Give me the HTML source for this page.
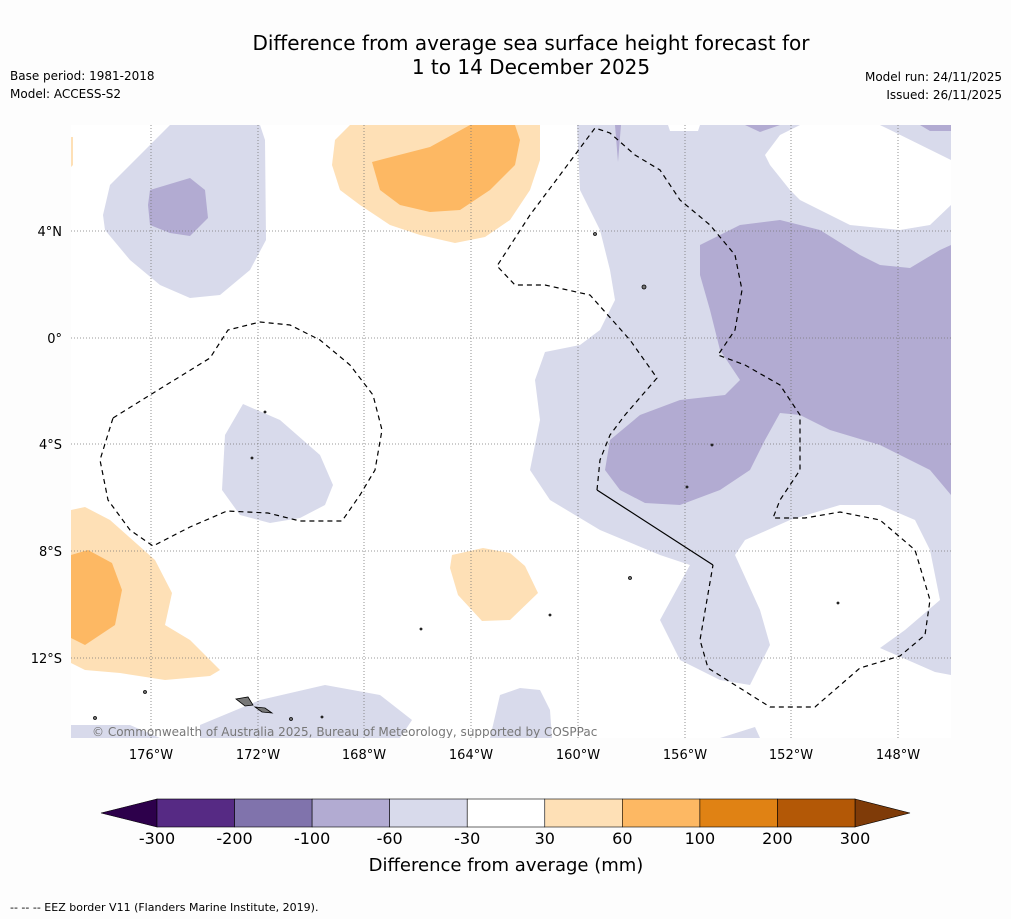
<!DOCTYPE html>
<html><head><meta charset="utf-8"><style>
body{margin:0;background:#fff;width:1011px;height:919px;overflow:hidden;font-family:"DejaVu Sans","Liberation Sans",sans-serif;}
svg{position:absolute;left:0;top:0}
</style></head><body>
<svg width="1011" height="919" xmlns="http://www.w3.org/2000/svg">
<rect width="1011" height="919" fill="#fdfdfd"/>
<text x="531" y="50" font-size="20" text-anchor="middle">Difference from average sea surface height forecast for</text>
<text x="531" y="74" font-size="20" text-anchor="middle">1 to 14 December 2025</text>
<text x="10" y="80" font-size="12">Base period: 1981-2018</text>
<text x="10" y="98" font-size="12">Model: ACCESS-S2</text>
<text x="1002" y="81" font-size="12" text-anchor="end">Model run: 24/11/2025</text>
<text x="1002" y="99" font-size="12" text-anchor="end">Issued: 26/11/2025</text>

<defs><clipPath id="mapclip"><rect x="71" y="125" width="880" height="613"/></clipPath></defs>
<g clip-path="url(#mapclip)">
<rect x="71" y="125" width="880" height="613" fill="#fff"/>
<g fill="#d8daeb">
<path d="M110,185 L170,125 L260,125 L265,140 L266,240 L250,270 L220,295 L190,298 L160,285 L130,260 L105,230 L103,215Z"/>
<path d="M243,404 L280,420 L320,455 L333,485 L325,505 L300,518 L270,523 L240,515 L222,490 L225,435Z"/>
<path d="M577,125 L951,125 L951,675 L935,672 L880,648 L905,630 L940,600 L930,550 L915,520 L880,505 L840,505 L790,520 L745,540 L735,555 L760,610 L770,645 L750,685 L720,680 L680,660 L660,620 L690,565 L660,555 L600,530 L550,500 L530,470 L540,420 L535,380 L545,352 L580,345 L600,330 L615,300 L610,270 L600,230 L580,190Z"/>
<path d="M200,738 L200,725 L260,700 L325,685 L380,695 L412,720 L400,738Z"/>
<path d="M490,738 L500,695 L520,688 L540,690 L550,710 L552,738Z"/>
<path d="M71,725 L130,725 L160,738 L71,738Z"/>
<path d="M720,738 L755,727 L760,738Z"/>
</g>
<path d="M770,165 L765,155 L780,135 L800,125 L880,125 L951,160 L951,205 L930,225 L900,230 L850,225 L800,200 L790,190Z" fill="#fff"/>
<path d="M668,125 L700,125 L698,131 L670,131Z" fill="#fff"/>
<g fill="#b2abd2">
<path d="M150,190 L190,178 L205,190 L208,218 L190,236 L170,233 L150,225 L148,205Z"/>
<path d="M700,245 L740,225 L780,220 L820,230 L860,255 L880,265 L910,268 L940,250 L951,245 L951,495 L930,470 L880,445 L830,430 L800,415 L780,413 L765,440 L750,470 L720,490 L680,505 L645,503 L620,490 L605,470 L610,440 L640,415 L680,400 L725,395 L740,380 L720,350 L710,310 L700,275Z"/>
<path d="M745,125 L780,125 L760,132Z"/><path d="M920,125 L951,125 L951,131 L930,131Z"/>
<path d="M615,125 L621,125 L618,162Z"/>
</g>
<g fill="#fee0b6">
<path d="M350,125 L540,125 L540,160 L530,190 L510,220 L485,237 L455,243 L420,235 L390,225 L360,205 L340,190 L332,165 L335,140Z"/>
<path d="M71,510 L85,507 L110,520 L155,560 L172,593 L165,625 L190,640 L220,670 L210,676 L165,680 L120,673 L85,670 L71,663Z"/>
<path d="M452,555 L483,548 L510,553 L525,566 L538,593 L510,620 L482,621 L458,595 L450,568Z"/>
<path d="M71,137 L73,137 L73,165 L71,167Z"/>
</g>
<g fill="#fdb863">
<path d="M372,162 L430,147 L470,125 L515,125 L520,140 L515,165 L490,190 L460,210 L430,212 L400,205 L380,190Z"/>
<path d="M71,555 L88,550 L112,563 L122,590 L115,625 L85,645 L71,638Z"/>
</g>
<g stroke="#777" stroke-width="0.8" stroke-dasharray="1,2">
<line x1="151" y1="125" x2="151" y2="738"/><line x1="258" y1="125" x2="258" y2="738"/><line x1="364" y1="125" x2="364" y2="738"/><line x1="471" y1="125" x2="471" y2="738"/><line x1="578" y1="125" x2="578" y2="738"/><line x1="685" y1="125" x2="685" y2="738"/><line x1="791" y1="125" x2="791" y2="738"/><line x1="898" y1="125" x2="898" y2="738"/>
<line x1="71" y1="231" x2="951" y2="231"/><line x1="71" y1="338" x2="951" y2="338"/><line x1="71" y1="444" x2="951" y2="444"/><line x1="71" y1="551" x2="951" y2="551"/><line x1="71" y1="658" x2="951" y2="658"/>
</g>
<g fill="none" stroke="#000" stroke-width="1.2" stroke-dasharray="5,4">
<path d="M113,418 L150,395 L210,358 L228,330 L260,322 L290,325 L320,340 L350,365 L373,395 L382,430 L375,470 L360,495 L342,521 L300,521 L268,513 L227,511 L190,527 L153,546 L130,530 L108,500 L100,460Z"/>
<path d="M597,490 L600,460 L610,435 L625,415 L657,378 L630,340 L590,295 L545,285 L515,285 L497,266 L530,215 L560,175 L595,128 L610,133 L635,155 L660,170 L680,200 L710,225 L735,255 L742,290 L735,330 L718,355 L745,365 L780,385 L800,415 L800,470 L780,500 L773,518 L805,518 L840,512 L880,520 L915,550 L930,600 L925,635 L900,656 L860,668 L815,707 L770,707 L735,685 L708,668 L700,640 L713,565"/>
</g>
<path d="M597,490 L713,565" stroke="#000" stroke-width="1.2" fill="none"/>
<g fill="#777" stroke="#000" stroke-width="0.8">
<path d="M236,699 L248,697 L253,705 L245,706Z"/><path d="M255,707 L265,708 L272,713 L262,712Z"/>
<circle cx="145" cy="692" r="1.5"/><circle cx="644" cy="287" r="2"/><circle cx="595" cy="234" r="1.5"/><circle cx="630" cy="578" r="1.5"/><circle cx="265" cy="412" r="1"/><circle cx="252" cy="458" r="1"/><circle cx="712" cy="445" r="1"/><circle cx="687" cy="487" r="1"/><circle cx="550" cy="615" r="1"/><circle cx="291" cy="719" r="1.5"/><circle cx="322" cy="717" r="1"/><circle cx="95" cy="718" r="1.5"/><circle cx="421" cy="629" r="1"/><circle cx="838" cy="603" r="1"/>
</g>
<text x="92" y="736" font-size="12" fill="#777">© Commonwealth of Australia 2025, Bureau of Meteorology, supported by COSPPac</text>
</g>
<g font-size="13">
<g text-anchor="middle">
<text x="151" y="759">176°W</text><text x="258" y="759">172°W</text><text x="364" y="759">168°W</text><text x="471" y="759">164°W</text><text x="578" y="759">160°W</text><text x="685" y="759">156°W</text><text x="791" y="759">152°W</text><text x="898" y="759">148°W</text>
</g>
<g text-anchor="end">
<text x="62" y="236">4°N</text><text x="62" y="343">0°</text><text x="62" y="449">4°S</text><text x="62" y="556">8°S</text><text x="62" y="663">12°S</text>
</g>
</g>
<g id="cbar"></g>
<text x="506" y="871" font-size="18" text-anchor="middle">Difference from average (mm)</text>
<text x="10" y="911" font-size="11">--  --  -- EEZ border V11 (Flanders Marine Institute, 2019).</text>
</svg>
<script>
const levels=[-300,-200,-100,-60,-30,30,60,100,200,300];
const levelColors=["#562a84","#8073ac","#b2abd2","#d8daeb","#ffffff","#fee0b6","#fdb863","#e08214","#b35806"];
const extendColors=["#2d004b","#7f3b08"];
const g=document.getElementById('cbar');const ns="http://www.w3.org/2000/svg";
const x0=157,x1=855,y0=799,h=28,seg=(x1-x0)/(levels.length-1);
function mk(t,a){const e=document.createElementNS(ns,t);for(const k in a)e.setAttribute(k,a[k]);g.appendChild(e);return e;}
const lt=mk('polygon',{points:`${x0},${y0} ${x0},${y0+h} 101,${y0+h/2}`,fill:extendColors[0],stroke:'#000','stroke-width':0.6});


const rt=mk('polygon',{points:`${x1},${y0} ${x1},${y0+h} 910,${y0+h/2}`,fill:extendColors[1],stroke:'#000','stroke-width':0.6});


levelColors.forEach((c,i)=>{const r=mk('rect',{x:x0+i*seg,y:y0,width:seg,height:h,fill:c,stroke:'#000','stroke-width':0.6});

});
levels.forEach((v,i)=>{const t=mk('text',{x:x0+i*seg,y:844,'font-size':16,'text-anchor':'middle'});t.textContent=v;

});
</script>
</body></html>
